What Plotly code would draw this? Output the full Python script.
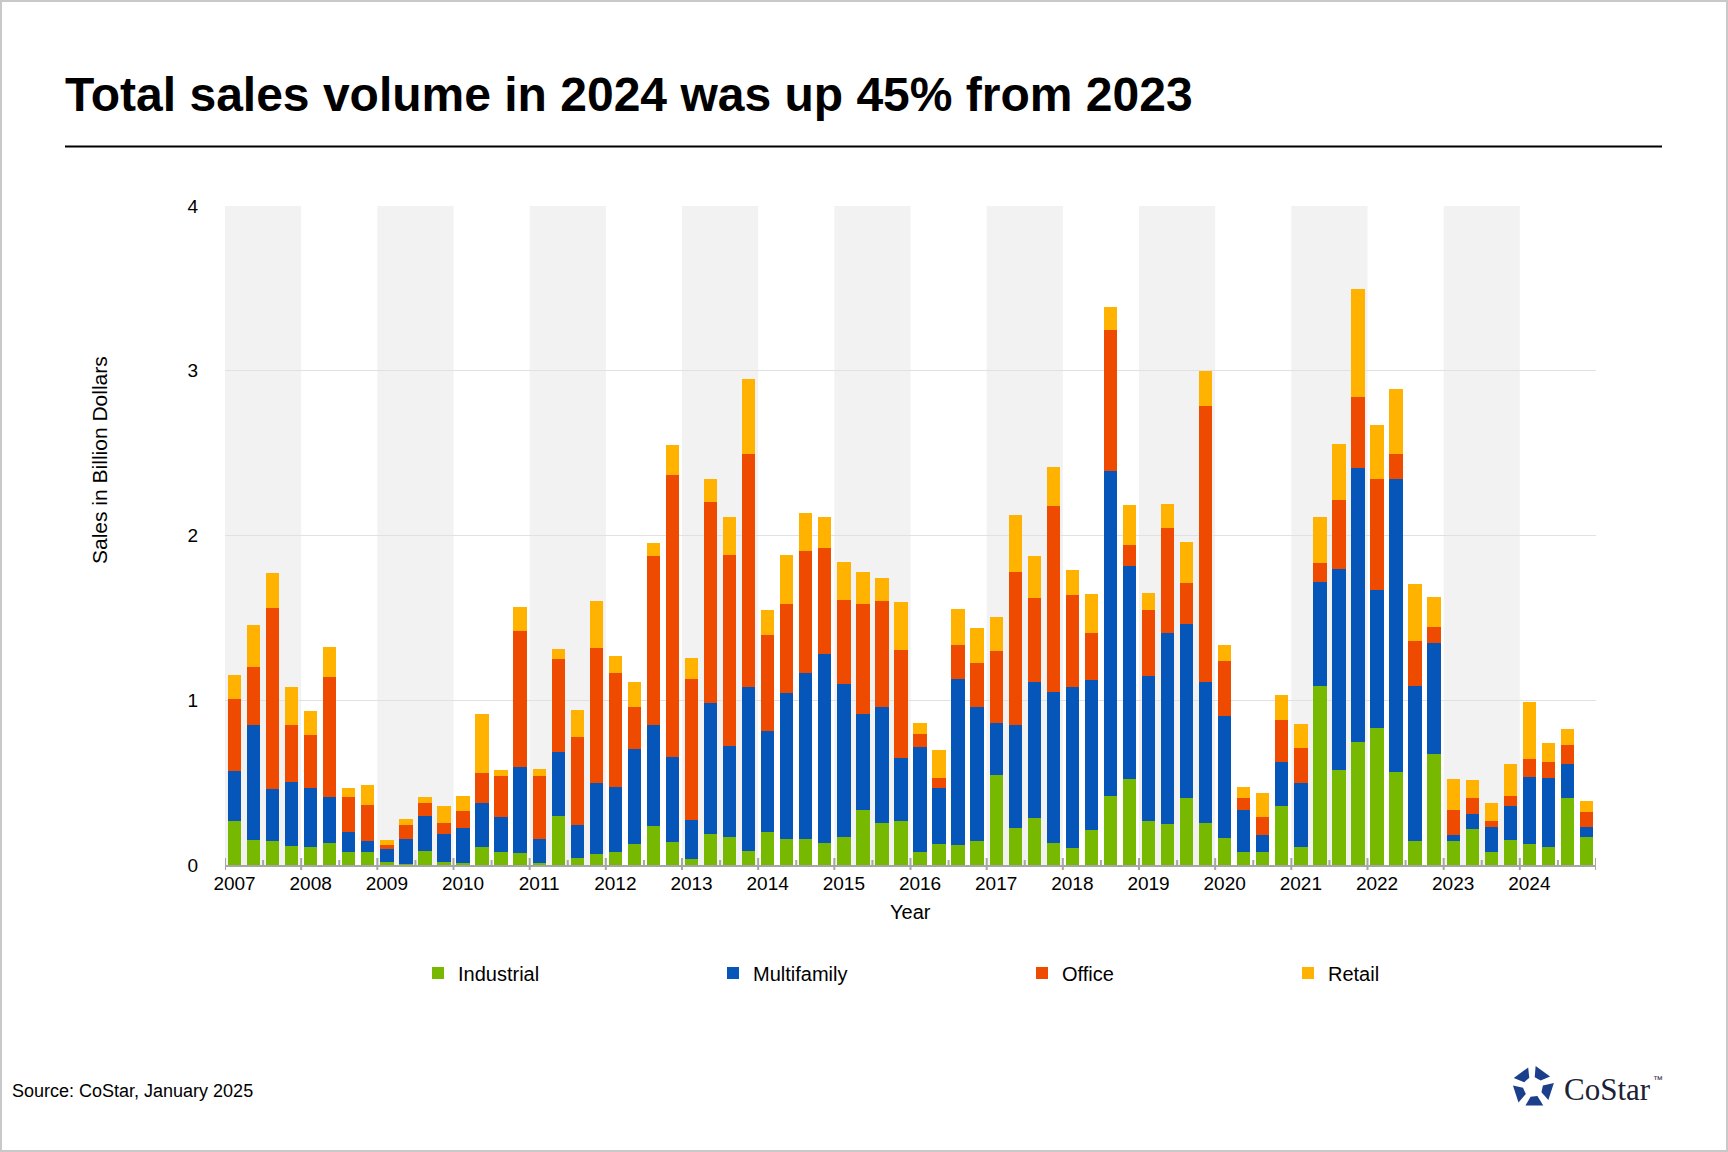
import math
import plotly.graph_objects as go

# quarterly sales volume, billions of dollars, 2007 Q1 .. 2024 Q4
years = [str(y) for y in range(2007, 2025)]
quarters = [y + " Q" + str(q) for y in years for q in range(1, 5)]

industrial = [0.267, 0.152, 0.146, 0.115, 0.109, 0.134, 0.079, 0.079,
              0.018, 0.006, 0.085, 0.018, 0.010, 0.107, 0.077, 0.071,
              0.010, 0.296, 0.040, 0.065, 0.077, 0.126, 0.235, 0.138,
              0.034, 0.186, 0.168, 0.083, 0.198, 0.156, 0.156, 0.132,
              0.168, 0.332, 0.253, 0.265, 0.077, 0.126, 0.119, 0.144,
              0.545, 0.223, 0.283, 0.132, 0.101, 0.211, 0.417, 0.520,
              0.267, 0.249, 0.406, 0.255, 0.164, 0.079, 0.079, 0.358,
              0.109, 1.086, 0.576, 0.746, 0.830, 0.562, 0.145, 0.672,
              0.145, 0.218, 0.077, 0.150, 0.126, 0.108, 0.405, 0.169]
multifamily = [0.304, 0.698, 0.316, 0.389, 0.359, 0.279, 0.121, 0.067,
               0.079, 0.152, 0.213, 0.170, 0.213, 0.267, 0.212, 0.522,
               0.146, 0.388, 0.201, 0.431, 0.395, 0.576, 0.613, 0.516,
               0.237, 0.795, 0.553, 0.996, 0.614, 0.887, 1.008, 1.147,
               0.929, 0.583, 0.705, 0.382, 0.638, 0.340, 1.009, 0.813,
               0.315, 0.625, 0.826, 0.917, 0.978, 0.910, 1.974, 1.294,
               0.880, 1.158, 1.056, 0.855, 0.740, 0.255, 0.103, 0.267,
               0.388, 0.631, 1.220, 1.662, 0.837, 1.780, 0.939, 0.675,
               0.035, 0.091, 0.153, 0.206, 0.406, 0.419, 0.206, 0.061]
office = [0.437, 0.352, 1.099, 0.346, 0.321, 0.729, 0.213, 0.218,
          0.024, 0.085, 0.079, 0.067, 0.103, 0.183, 0.249, 0.826,
          0.382, 0.565, 0.534, 0.820, 0.692, 0.255, 1.026, 1.712,
          0.856, 1.220, 1.160, 1.415, 0.583, 0.540, 0.741, 0.644,
          0.510, 0.668, 0.643, 0.657, 0.079, 0.060, 0.206, 0.268,
          0.438, 0.929, 0.510, 1.129, 0.559, 0.286, 0.856, 0.127,
          0.400, 0.637, 0.249, 1.675, 0.334, 0.072, 0.109, 0.255,
          0.213, 0.115, 0.418, 0.431, 0.675, 0.152, 0.274, 0.096,
          0.153, 0.096, 0.035, 0.061, 0.110, 0.096, 0.115, 0.091]
retail = [0.146, 0.255, 0.212, 0.231, 0.146, 0.182, 0.055, 0.122,
          0.031, 0.036, 0.036, 0.103, 0.091, 0.358, 0.037, 0.146,
          0.043, 0.061, 0.164, 0.285, 0.103, 0.152, 0.079, 0.183,
          0.127, 0.140, 0.230, 0.455, 0.152, 0.298, 0.231, 0.188,
          0.231, 0.194, 0.140, 0.291, 0.066, 0.170, 0.219, 0.212,
          0.206, 0.346, 0.255, 0.237, 0.151, 0.237, 0.140, 0.243,
          0.103, 0.146, 0.249, 0.212, 0.097, 0.067, 0.146, 0.151,
          0.145, 0.279, 0.340, 0.659, 0.328, 0.394, 0.347, 0.182,
          0.187, 0.110, 0.110, 0.194, 0.346, 0.117, 0.098, 0.065]

series = [("Industrial", industrial, "#76b900"),
          ("Multifamily", multifamily, "#0556b8"),
          ("Office", office, "#ef4b00"),
          ("Retail", retail, "#ffb300")]

FONT = "Liberation Sans, Arial, sans-serif"
W, H = 1728, 1152
L, R, T, B = 225, 132, 206, 287
PW, PH = W - L - R, H - T - B


# canvas pixel -> paper coordinates
def px(x):
    return (x - L) / PW


def py(y):
    return (H - B - y) / PH


fig = go.Figure()
legend_left = [418, 713, 1022, 1288]
for i, (name, vals, col) in enumerate(series):
    lg = "legend" if i == 0 else "legend" + str(i + 1)
    fig.add_trace(go.Bar(x=quarters, y=vals, name=name, marker_color=col,
                         marker_line_width=0, legend=lg))

shapes = []
# alternating year bands
for i in range(0, len(years), 2):
    shapes.append(dict(type="rect", xref="x", yref="paper", x0=4 * i - 0.5, x1=4 * i + 3.5,
                       y0=0, y1=1, fillcolor="#f2f2f2", line_width=0, layer="below"))
# axis ticks: long at year boundaries, short mid-year
for i in range(len(years) + 1):
    shapes.append(dict(type="line", xref="x", yref="paper", x0=4 * i - 0.5, x1=4 * i - 0.5,
                       y0=-5 / PH, y1=7 / PH, line=dict(color="#a6a6a6", width=2)))
for i in range(len(years)):
    shapes.append(dict(type="line", xref="x", yref="paper", x0=4 * i + 1.5, x1=4 * i + 1.5,
                       y0=0, y1=5 / PH, line=dict(color="#a6a6a6", width=2)))
# title rule
shapes.append(dict(type="line", xref="paper", yref="paper", x0=px(65), x1=px(1662),
                   y0=py(146.5), y1=py(146.5), line=dict(color="black", width=2)))
# outer frame
shapes.append(dict(type="rect", xref="paper", yref="paper", x0=px(1), x1=px(W - 1),
                   y0=py(1), y1=py(H - 1), line=dict(color="#c8c8c8", width=2)))

# CoStar logo mark: five pinwheel pieces
cx, cy, ro, ri = 1533, 1087, 23, 10
for k in range(5):
    a = math.radians(-90 + 72 * k)
    b = math.radians(-90 + 72 * (k + 1))
    o1 = (cx + ro * math.cos(a), cy + ro * math.sin(a))
    o2 = (cx + ro * math.cos(b), cy + ro * math.sin(b))
    p1 = (o1[0] + 0.12 * (o2[0] - o1[0]), o1[1] + 0.12 * (o2[1] - o1[1]))
    p2 = (o1[0] + 0.78 * (o2[0] - o1[0]), o1[1] + 0.78 * (o2[1] - o1[1]))
    c = math.radians(-90 + 72 * k + 50)
    d = math.radians(-90 + 72 * k + 10)
    q2 = (cx + ri * math.cos(c), cy + ri * math.sin(c))
    q1 = (cx + ri * math.cos(d), cy + ri * math.sin(d))
    pts = [p1, p2, q2, q1]
    path = "M " + " L ".join("%.5f,%.5f" % (px(x), py(y)) for x, y in pts) + " Z"
    shapes.append(dict(type="path", xref="paper", yref="paper", path=path,
                       fillcolor="#1b3f8b", line_width=0))

annotations = [
    dict(text="<b>Total sales volume in 2024 was up 45% from 2023</b>", x=px(63), y=py(95),
         xanchor="left", yanchor="middle",
         font=dict(family=FONT, size=48, color="black")),
    dict(text="Sales in Billion Dollars", x=px(99), y=py(460), textangle=-90,
         xanchor="center", yanchor="middle",
         font=dict(family=FONT, size=21, color="black")),
    dict(text="Year", x=px(910), y=py(912), xanchor="center", yanchor="middle",
         font=dict(family=FONT, size=20, color="black")),
    dict(text="Source: CoStar, January 2025", x=px(10), y=py(1091), xanchor="left",
         yanchor="middle", font=dict(family=FONT, size=18, color="black")),
    dict(text="CoStar", x=px(1562), y=py(1089), xanchor="left", yanchor="middle",
         font=dict(family="Liberation Serif, serif", size=31, color="#1c2233")),
    dict(text="™", x=px(1651), y=py(1079), xanchor="left", yanchor="middle",
         font=dict(family="Liberation Sans, sans-serif", size=10, color="#1c2233")),
]
for a in annotations:
    a.update(xref="paper", yref="paper", showarrow=False)

legend_style = dict(orientation="h", yanchor="middle", xanchor="left", y=py(973),
                    font=dict(family=FONT, size=20, color="black"),
                    bgcolor="rgba(0,0,0,0)", borderwidth=0)
legends = {}
for i, xl in enumerate(legend_left):
    key = "legend" if i == 0 else "legend" + str(i + 1)
    legends[key] = dict(legend_style, x=px(xl))

fig.update_layout(
    width=W, height=H, autosize=False,
    margin=dict(l=L, r=R, t=T, b=B),
    paper_bgcolor="white", plot_bgcolor="white",
    barmode="stack", bargap=0.3,
    font=dict(family=FONT, size=19, color="black"),
    showlegend=True,
    shapes=shapes, annotations=annotations,
    **legends,
)
fig.update_xaxes(type="category", tickmode="array", tickvals=quarters[::4], ticktext=years,
                 ticks="", showline=True, linecolor="#a6a6a6", linewidth=2, showgrid=False,
                 tickfont=dict(family=FONT, size=19, color="black"), range=[-0.5, 71.5])
fig.update_yaxes(range=[0, 4], tickvals=[0, 1, 2, 3, 4], showgrid=True, gridcolor="#e1e1e1",
                 gridwidth=1, zeroline=False, showline=False,
                 ticks="outside", ticklen=22, tickcolor="rgba(0,0,0,0)",
                 tickfont=dict(family=FONT, size=19, color="black"))

fig.write_html("out.html", config={"displayModeBar": False},
               post_script="document.body.style.margin='0';")
